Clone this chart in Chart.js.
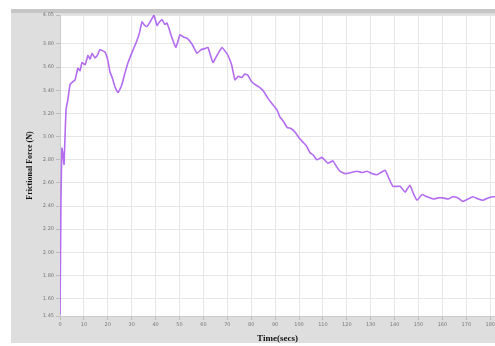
<!DOCTYPE html>
<html>
<head>
<meta charset="utf-8">
<script src="https://cdn.jsdelivr.net/npm/chart.js@4.4.1/dist/chart.umd.min.js"></script>
<style>
  html, body { margin: 0; padding: 0; background: #ffffff; }
  #wrap { width: 495px; height: 346px; }
</style>
</head>
<body>
<div id="wrap"><canvas id="force"></canvas></div>
<script>
// Friction force recorded over the run
const timeSecs = [0, 0.4, 0.8, 1.3, 1.7, 2.5, 3.3, 4.2, 5.2, 6.3, 7.5, 8.4, 9.2, 10.5, 11.7, 12.6, 13.4, 14.6, 15.6, 16.7, 18.8,
  20.0, 20.9, 22.0, 23.0, 24.3, 25.9, 27.2, 28.5, 30.4, 32.2, 33.3, 34.3, 35.4, 36.4, 37.7, 38.5, 39.3, 40.6, 41.6, 42.7,
  43.8, 44.8, 46.9, 48.5, 50.2, 51.6, 53.1, 55.2, 57.3, 59.0, 60.7, 61.9, 64.0, 65.9, 67.8, 69.0, 70.3, 71.8, 73.2, 74.6,
  76.1, 77.3, 78.6, 80.0, 81.5, 83.2, 84.9, 87.0, 88.9, 90.8, 92.0, 93.5, 95.0, 96.6, 98.3, 100.0, 101.7, 103.1, 104.6,
  106.0, 107.5, 109.6, 112.1, 114.2, 115.7, 117.2, 119.2, 121.8, 124.3, 126.4, 128.5, 130.5, 132.6, 134.3, 136.0, 137.6,
  139.3, 142.3, 144.4, 146.4, 148.0, 149.4, 151.5, 153.6, 156.1, 158.2, 160.3, 162.4, 164.4, 166.5, 168.6, 170.7, 172.8,
  175.0, 177.0, 179.1, 181.2, 182];
const forceN = [1.46, 2.45, 2.90, 2.84, 2.76, 3.23, 3.32, 3.45, 3.47, 3.49, 3.59, 3.57, 3.64, 3.62, 3.70, 3.67, 3.72, 3.68, 3.70, 3.75, 3.73,
  3.66, 3.56, 3.50, 3.43, 3.38, 3.45, 3.55, 3.64, 3.74, 3.83, 3.90, 3.99, 3.96, 3.95, 3.99, 4.02, 4.05, 3.96, 3.99, 4.01,
  3.97, 3.98, 3.85, 3.77, 3.88, 3.86, 3.85, 3.80, 3.72, 3.75, 3.76, 3.77, 3.64, 3.71, 3.77, 3.74, 3.70, 3.62, 3.49, 3.52,
  3.51, 3.54, 3.53, 3.48, 3.45, 3.43, 3.40, 3.33, 3.28, 3.23, 3.17, 3.13, 3.08, 3.07, 3.04, 2.99, 2.95, 2.92, 2.86,
  2.84, 2.80, 2.82, 2.77, 2.79, 2.74, 2.70, 2.68, 2.69, 2.70, 2.69, 2.70, 2.68, 2.67, 2.69, 2.71, 2.64,
  2.57, 2.57, 2.52, 2.58, 2.50, 2.45, 2.50, 2.48, 2.46, 2.47, 2.47, 2.46, 2.48, 2.47, 2.44, 2.46, 2.48,
  2.46, 2.45, 2.47, 2.48, 2.48];

// Axis ticks
const xTicks = [0, 10, 20, 30, 40, 50, 60, 70, 80, 90, 100, 110, 120, 130, 140, 150, 160, 170, 180];
const yTicks = [1.45, 1.60, 1.80, 2.00, 2.20, 2.40, 2.60, 2.80, 3.00, 3.20, 3.40, 3.60, 3.80, 4.05];

const points = timeSecs.map((t, i) => ({ x: t, y: forceN[i] }));

// grey panel behind the white plot area
const panel = {
  id: 'panel',
  beforeDraw(chart) {
    const { ctx, chartArea: a } = chart;
    ctx.save();
    ctx.fillStyle = '#ffffff';
    ctx.fillRect(0, 0, chart.width, chart.height);
    ctx.fillStyle = '#dedede';
    ctx.fillRect(11, 9, chart.width - 11, chart.height - 12);
    ctx.fillStyle = '#c6c6c6';
    ctx.fillRect(11, 9, chart.width - 11, 4);
    ctx.fillStyle = '#ffffff';
    ctx.fillRect(a.left, a.top, a.right - a.left, a.bottom - a.top);
    ctx.restore();
  }
};

new Chart(document.getElementById('force'), {
  type: 'line',
  data: {
    datasets: [{
      data: points,
      borderColor: '#b36cf0',
      borderWidth: 1.6,
      pointRadius: 0,
      tension: 0.12,
      fill: false
    }]
  },
  options: {
    responsive: true,
    maintainAspectRatio: false,
    animation: false,
    layout: { padding: { left: 11, top: 15, right: 0, bottom: 0 } },
    plugins: { legend: { display: false }, tooltip: { enabled: false } },
    scales: {
      x: {
        type: 'linear',
        min: 0,
        max: 182,
        afterBuildTicks: s => { s.ticks = xTicks.map(v => ({ value: v })); },
        afterFit: s => { s.height = 30; s.paddingLeft = 0; s.paddingRight = 0; },
        grid: { color: '#e6e6e6', tickLength: 4, tickColor: '#bbbbbb' },
        border: { color: '#cccccc' },
        ticks: { color: '#777777', font: { size: 5, family: 'DejaVu Sans' }, padding: 2, maxRotation: 0 },
        title: {
          display: true,
          text: 'Time(secs)',
          color: '#111111',
          font: { family: 'Liberation Serif', weight: 'bold', size: 9 },
          padding: { top: 2, bottom: 2 }
        }
      },
      y: {
        min: 1.45,
        max: 4.05,
        afterBuildTicks: s => { s.ticks = yTicks.map(v => ({ value: v })); },
        afterFit: s => { s.width = 49; s.paddingTop = 0; s.paddingBottom = 0; },
        grid: { color: '#e6e6e6', tickLength: 4, tickColor: '#bbbbbb' },
        border: { color: '#cccccc' },
        ticks: {
          color: '#777777',
          font: { size: 5, family: 'DejaVu Sans' },
          padding: 2,
          callback: v => v.toFixed(2)
        },
        title: {
          display: true,
          text: 'Frictional Force (N)',
          color: '#111111',
          font: { family: 'Liberation Serif', weight: 'bold', size: 8 },
          padding: { top: 14, bottom: 0 }
        }
      }
    }
  },
  plugins: [panel]
});
</script>
</body>
</html>
